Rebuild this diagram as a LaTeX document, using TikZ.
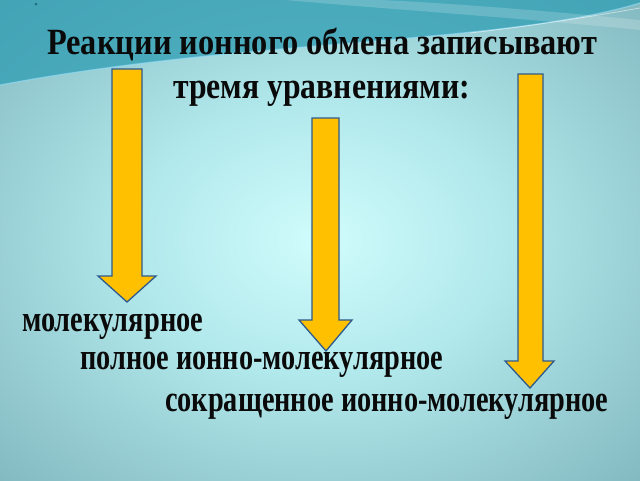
\documentclass[tikz,border=0pt]{standalone}
\usepackage{fontspec}
\usepackage{graphicx}
\setmainfont{Liberation Serif}[BoldFont={Liberation Serif Bold}]
\definecolor{bgin}{HTML}{D0FCFC}
\definecolor{bgmid}{HTML}{B2E9EC}
\definecolor{bgmid2}{HTML}{86BCC3}
\definecolor{bgout}{HTML}{6A99A2}
\definecolor{bgfar}{HTML}{557F88}
\definecolor{topteal}{HTML}{2E9DB3}
\definecolor{arrfill}{HTML}{FFC000}
\definecolor{arrline}{HTML}{2F5A8C}
\definecolor{dotcol}{HTML}{1F6E86}
\definecolor{txt}{HTML}{0A0A0A}
\pgfdeclareradialshading{bgshade}{\pgfpoint{0bp}{0bp}}{color(0bp)=(bgin); color(14bp)=(bgmid); color(34bp)=(bgmid2); color(50bp)=(bgout); color(72bp)=(bgfar)}
\tikzset{
  blockarrow/.style={fill=arrfill, draw=arrline, line width=1.3pt, line join=miter},
  label/.style={anchor=base west, inner sep=0pt, text=txt, font=\bfseries\fontsize{37}{44}\selectfont},
}
\begin{document}
\begin{tikzpicture}[x=1pt,y=-1pt]
\useasboundingbox (0,0) rectangle (640,480);
% background
\shade[shading=bgshade] (0,0) rectangle (640,480);
\fill[topteal, opacity=0.75] (0,0) -- (640,0) -- (640,3) .. controls (500,45) and (250,38) .. (0,85) -- cycle;
\draw[color=cyan!40!white, opacity=0.6, line width=1.2pt] (640,3) .. controls (500,45) and (250,38) .. (0,85);
\fill[white, opacity=0.18] (285,0) .. controls (400,10) and (520,18) .. (640,30) -- (640,20) .. controls (540,10) and (430,2) .. (380,0) -- cycle;
\draw[white, opacity=0.5, line width=0.8pt] (470,33) .. controls (540,25) and (600,15) .. (640,8);
\fill[dotcol] (36,4) circle (1.5);
% title
\node[label] (t1) at (47,54) {\resizebox{550pt}{\height}{Реакции ионного обмена записывают}};
\node[label] (t2) at (173,98) {\resizebox{297pt}{\height}{тремя уравнениями:}};
% arrows
\draw[blockarrow] (112,69) -- (142,69) -- (142,276) -- (156,276) -- (127,302) -- (98,276) -- (112,276) -- cycle;
\draw[blockarrow] (312,118) -- (339,118) -- (339,320) -- (352,320) -- (326,351) -- (299,320) -- (312,320) -- cycle;
\draw[blockarrow] (518,74) -- (543,74) -- (543,361) -- (554,361) -- (530,388) -- (505,361) -- (518,361) -- cycle;
% labels
\node[label] (l1) at (22,331) {\resizebox{181pt}{\height}{молекулярное}};
\node[label] (l2) at (80,369) {\resizebox{363pt}{\height}{полное ионно-молекулярное}};
\node[label] (l3) at (165,411) {\resizebox{443pt}{\height}{сокращенное ионно-молекулярное}};
\end{tikzpicture}
\end{document}
